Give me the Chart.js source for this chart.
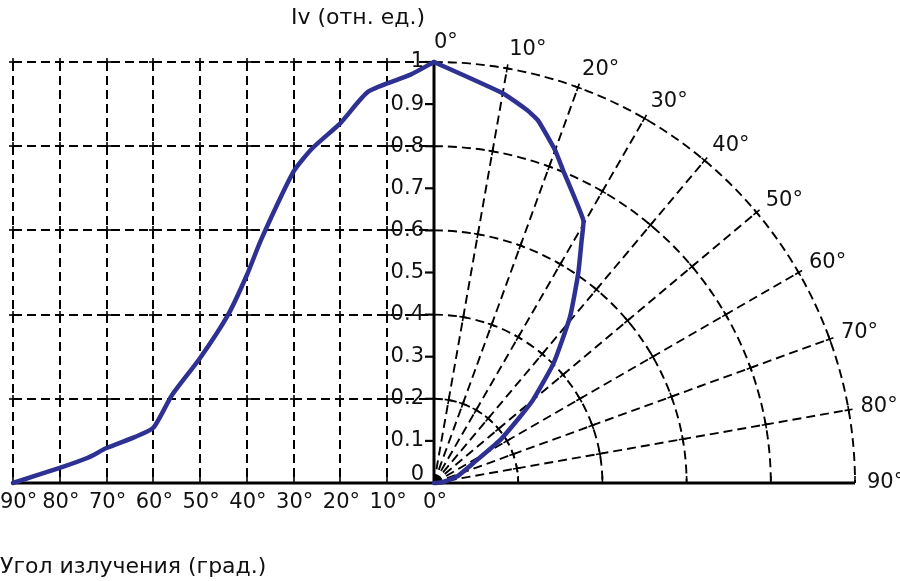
<!DOCTYPE html>
<html lang="ru">
<head>
<meta charset="UTF-8" />
<title>Диаграмма направленности</title>
<script src="https://cdn.jsdelivr.net/npm/chart.js"></script>
<style>
  body { margin: 0; background: #fff; }
  canvas { display: block; }
</style>
</head>
<body>
<canvas id="chart" width="900" height="581"></canvas>

<script>
  // левая (декартова) кривая: угол, град -> Iv
  const cartAngles = [0, 5, 14, 20, 26, 30, 37, 40, 44, 50, 56, 60, 64, 70, 74, 80, 90];
  const cartValues = [1, 0.97, 0.93, 0.855, 0.795, 0.74, 0.577, 0.494, 0.4, 0.297, 0.209, 0.131, 0.109, 0.083, 0.06, 0.036, 0];

  // правая (полярная) кривая
  const polarAngles = [0, 10, 14, 16, 20, 22.4, 29.6, 31.3, 34.5, 39.3, 45, 50, 52.4, 57, 62.5, 74.5, 85, 90];
  const polarValues = [1, 0.94, 0.913, 0.896, 0.841, 0.804, 0.718, 0.675, 0.605, 0.51, 0.401, 0.307, 0.258, 0.187, 0.11, 0.056, 0.02, 0];

  const gridDegrees = [10, 20, 30, 40, 50, 60, 70, 80, 90];
  const radialDegrees = [10, 20, 30, 40, 50, 60, 70, 80];
  const gridLevels = [0.2, 0.4, 0.6, 0.8, 1];
  const yTicks = [0, 0.1, 0.2, 0.3, 0.4, 0.5, 0.6, 0.7, 0.8, 0.9, 1];
  const xTickDegrees = [90, 80, 70, 60, 50, 40, 30, 20, 10, 0];
  const polarTickDegrees = [0, 10, 20, 30, 40, 50, 60, 70, 80, 90];

  const yTitle = "Iv (отн. ед.)";
  const xTitle = "Угол излучения (град.)";

  const rad = d => d * Math.PI / 180;
  const INK = "#000";
  const FONT = '"DejaVu Sans", sans-serif';

  function seg(ctx, x1, y1, x2, y2) {
    ctx.beginPath();
    ctx.moveTo(x1, y1);
    ctx.lineTo(x2, y2);
    ctx.stroke();
  }

  const gridPlugin = {
    id: "polarGrid",
    beforeDatasetsDraw(chart) {
      const { ctx } = chart;
      const xs = chart.scales.x, ys = chart.scales.y;
      const ox = xs.getPixelForValue(0), oy = ys.getPixelForValue(0);
      const top = ys.getPixelForValue(1);
      const left = xs.getPixelForValue(-1);
      const R = oy - top;

      ctx.save();
      ctx.strokeStyle = INK;
      ctx.lineWidth = 2;
      ctx.setLineDash([9, 5]);

      // левая сетка
      gridDegrees.forEach(d => {
        const x = Math.round(xs.getPixelForValue(-d / 90));
        seg(ctx, x, top, x, oy);
      });
      gridLevels.forEach(v => {
        const y = Math.round(ys.getPixelForValue(v));
        seg(ctx, left, y, ox, y);
      });

      // полярная сетка
      ctx.lineWidth = 1.9;
      gridLevels.forEach(v => {
        ctx.beginPath();
        ctx.arc(ox, oy, v * R, -Math.PI / 2, 0);
        ctx.stroke();
      });
      radialDegrees.forEach(d => {
        seg(ctx, ox, oy, ox + R * Math.sin(rad(d)), oy - R * Math.cos(rad(d)));
      });

      // засечки на пересечениях
      ctx.setLineDash([]);
      ctx.lineWidth = 1.6;
      const m = 4;
      gridDegrees.forEach(d => {
        const x = Math.round(xs.getPixelForValue(-d / 90));
        gridLevels.forEach(v => {
          const y = Math.round(ys.getPixelForValue(v));
          seg(ctx, x - m, y, x + m, y);
          seg(ctx, x, y - m, x, y + m);
        });
        seg(ctx, x, oy, x, oy - 7);
      });
      radialDegrees.forEach(d => {
        const s = Math.sin(rad(d)), c = Math.cos(rad(d));
        gridLevels.forEach(v => {
          const px = ox + v * R * s, py = oy - v * R * c;
          seg(ctx, px - m * c, py - m * s, px + m * c, py + m * s);
          seg(ctx, px - m * s, py + m * c, px + m * s, py - m * c);
        });
      });
      gridLevels.forEach(v => {
        const x = ox + v * R;
        seg(ctx, x, oy, x, oy - 7);
      });

      // оси
      ctx.lineWidth = 3;
      seg(ctx, ox, oy, ox, top);
      seg(ctx, left, oy, ox + R, oy);
      ctx.lineWidth = 2.2;
      yTicks.forEach(v => {
        const y = ys.getPixelForValue(v);
        if (v > 0) seg(ctx, ox - 9, y, ox, y);
      });

      // центр
      ctx.fillStyle = "#000";
      ctx.beginPath();
      ctx.moveTo(ox, oy);
      ctx.arc(ox, oy, 6, -Math.PI / 2, 0);
      ctx.closePath();
      ctx.fill();
      ctx.restore();
    },
    afterDraw(chart) {
      const { ctx } = chart;
      const xs = chart.scales.x, ys = chart.scales.y;
      const ox = xs.getPixelForValue(0), oy = ys.getPixelForValue(0);
      const R = oy - ys.getPixelForValue(1);

      ctx.save();
      ctx.fillStyle = "#111";
      ctx.font = "21px " + FONT;

      // подписи оси Iv
      ctx.textAlign = "right";
      ctx.textBaseline = "middle";
      yTicks.forEach(v => {
        const label = v === 0 ? "0" : v === 1 ? "1" : v.toFixed(1);
        const y = ys.getPixelForValue(v) - (v === 0 ? 8 : 0);
        ctx.fillText(label, ox - 10, y);
      });

      // подписи углов слева
      ctx.textAlign = "left";
      xTickDegrees.forEach(d => {
        const label = d + "°";
        const w = ctx.measureText(label).width;
        const x = Math.max(0, xs.getPixelForValue(-d / 90) - w / 2 + 1);
        ctx.fillText(label, x, oy + 20);
      });

      // подписи полярных углов
      polarTickDegrees.forEach(d => {
        const s = Math.sin(rad(d)), c = Math.cos(rad(d));
        ctx.fillText(d + "°", ox + R * s + 12 * s, oy - R * c - 19 * c);
      });

      // заголовки
      ctx.font = "22px " + FONT;
      ctx.textAlign = "right";
      ctx.fillText(yTitle, ox - 9, 18);
      ctx.textAlign = "left";
      ctx.fillText(xTitle, 0, 567);
      ctx.restore();
    }
  };

  const curveStyle = {
    showLine: true,
    borderColor: "#2e3192",
    borderWidth: 4.5,
    borderCapStyle: "round",
    borderJoinStyle: "round",
    pointRadius: 0,
    clip: false
  };

  new Chart(document.getElementById("chart"), {
    type: "scatter",
    data: {
      datasets: [
        {
          ...curveStyle,
          tension: 0.2,
          data: cartAngles.map((a, i) => ({ x: -a / 90, y: cartValues[i] }))
        },
        {
          ...curveStyle,
          tension: 0.15,
          data: polarAngles.map((a, i) => ({
            x: polarValues[i] * Math.sin(rad(a)),
            y: polarValues[i] * Math.cos(rad(a))
          }))
        }
      ]
    },
    options: {
      responsive: false,
      animation: false,
      layout: { padding: { left: 13, right: 45, top: 62, bottom: 98 } },
      scales: {
        x: { type: "linear", min: -1, max: 1, display: false },
        y: { type: "linear", min: 0, max: 1, display: false }
      },
      plugins: {
        legend: { display: false },
        tooltip: { enabled: false }
      }
    },
    plugins: [gridPlugin]
  });
</script>
</body>
</html>
